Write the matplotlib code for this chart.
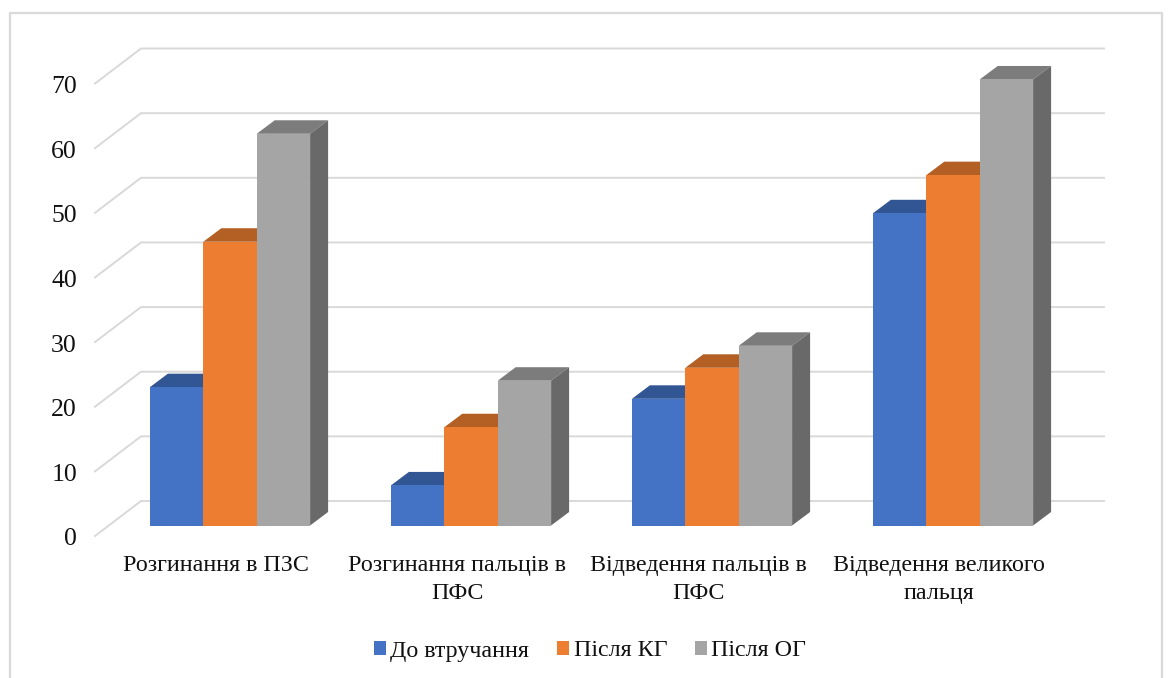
import numpy as np
import matplotlib
matplotlib.use("Agg")
import matplotlib.pyplot as plt
from matplotlib.patches import Patch, Polygon, Rectangle

plt.rcParams['font.family'] = ['Liberation Serif', 'DejaVu Serif']

categories = ["Розгинання в ПЗС", "Розгинання пальців в\nПФС",
              "Відведення пальців в\nПФС", "Відведення великого\nпальця"]
series_names = ["До втручання", "Після КГ", "Після ОГ"]
do_vtruchannia = [21.4, 6.2, 19.6, 48.3]
pislia_kg = [43.9, 15.2, 24.4, 54.2]
pislia_og = [60.6, 22.4, 27.8, 69.0]
y_ticks = [0, 10, 20, 30, 40, 50, 60, 70]

front_colors = ["#4472C4", "#ED7D31", "#A5A5A5"]
top_colors = ["#325593", "#B45F23", "#7C7C7C"]
side_colors = ["#2A4A80", "#9A4F1C", "#696969"]
grid_color = "#D9D9D9"

W, H = 1168, 678
fig = plt.figure(figsize=(W / 100, H / 100), dpi=100)
ax = fig.add_axes([0, 0, 1, 1])

# scales: one category = 241 px, ten units = 64.64 px, bars stand on y = 525.5 px
px_x = 1 / 241.0
px_y = 10 / 64.64
ax.set_xlim(-230 * px_x, (W - 230) * px_x)
ax.set_ylim(-(H - 525.5) * px_y, 525.5 * px_y)
ax.axis("off")

bar_w = 53.4 * px_x
depth_x = 18 * px_x
depth_y = 13.5 * px_y

# walls of the box: front edge, back edge, right end of the grid
wall_front_x = (95 - 230) * px_x
wall_back_x = (141 - 230) * px_x
wall_right_x = (1104 - 230) * px_x
wall_front_y = -10.5 * px_y
wall_back_y = 24.5 * px_y

for t in y_ticks:
    ax.plot([wall_front_x, wall_back_x, wall_right_x],
            [t + wall_front_y, t + wall_back_y, t + wall_back_y],
            color=grid_color, lw=1.4, solid_joinstyle="miter", zorder=1)
    ax.annotate(str(t), (wall_front_x, t + wall_front_y), xytext=(-13, -2.5),
                textcoords="offset points", ha="right", va="center",
                fontsize=18.5, color="#111111")

values = np.array([do_vtruchannia, pislia_kg, pislia_og])
z = 2
for g in range(len(categories)):
    for s in range(len(series_names)):
        x0 = g + (s - 1.5) * bar_w
        x1 = x0 + bar_w
        v = values[s][g]
        top = [(x0, v), (x1, v), (x1 + depth_x, v + depth_y), (x0 + depth_x, v + depth_y)]
        side = [(x1, 0), (x1 + depth_x, depth_y), (x1 + depth_x, v + depth_y), (x1, v)]
        ax.add_patch(Polygon(top, closed=True, fc=top_colors[s], ec="none", zorder=z))
        ax.add_patch(Polygon(side, closed=True, fc=side_colors[s], ec="none", zorder=z))
        ax.add_patch(Rectangle((x0, 0), bar_w, v, fc=front_colors[s], ec="none", zorder=z + 0.5))
        z += 1
    ax.annotate(categories[g], (g, 0), xytext=(-10, -21), textcoords="offset points",
                ha="center", va="top", fontsize=17.25, color="#111111", linespacing=1.46)

# outer chart border, open at the bottom
fx = lambda p: p / W
fy = lambda p: 1 - p / H
fig.add_artist(plt.Line2D([fx(9.5), fx(9.5), fx(1162), fx(1162)],
                          [0, fy(13), fy(13), 0], color=grid_color, lw=1.6))

handles = [Patch(fc=c, ec="none") for c in front_colors]
ax.legend(handles, series_names, ncol=3, loc="center", frameon=False,
          bbox_to_anchor=(fx(590), fy(651)), fontsize=17.25, handlelength=0.5,
          handleheight=0.5, handletextpad=0.2, columnspacing=1.15, labelcolor="#111111")

plt.savefig("out.png", dpi=100)
